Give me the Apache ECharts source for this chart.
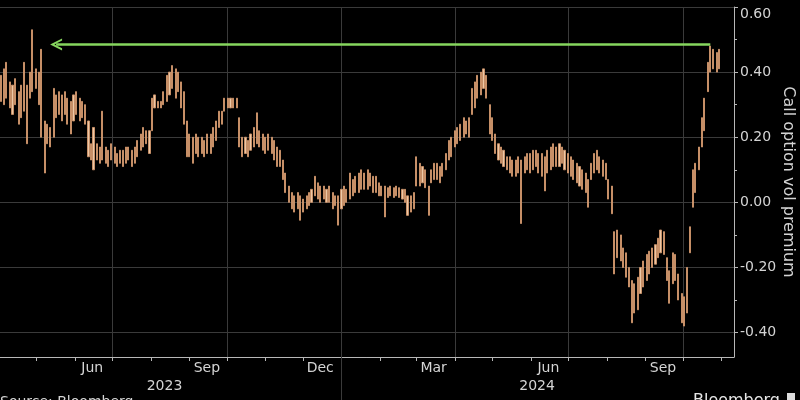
<!DOCTYPE html>
<html>
<head>
<meta charset="utf-8">
<script src="https://cdn.jsdelivr.net/npm/echarts@6/dist/echarts.min.js"></script>
<style>
html,body{margin:0;padding:0;background:#000;}
#c{width:800px;height:400px;}
</style>
</head>
<body>
<div id="c"></div>
<script>
// ---- data ----
// bars are sampled Mon / Wed / Fri of each week, starting Monday 2023-04-03
const firstMonday = [2023, 4, 3];
const weekDayOffsets = [0, 2, 4];

const lows = [
  0.31, 0.30, 0.32,   0.29, 0.27, 0.30,   0.24, 0.26, 0.28,   0.18, 0.32, 0.34,
  0.35, 0.30, 0.20,   0.09, 0.18, 0.17,   0.20, 0.26, 0.27,   0.25, 0.27, 0.24,
  0.21, 0.25, 0.27,   0.25, 0.26, 0.24,   0.14, 0.13, 0.10,   0.13, 0.12, 0.13,
  0.12, 0.11, 0.13,   0.12, 0.11, 0.12,   0.11, 0.12, 0.13,   0.11, 0.12, 0.14,
  0.16, 0.17, 0.18,   0.15, 0.22, 0.29,   0.29, 0.29, 0.30,   0.31, 0.33, 0.35,
  0.32, 0.34, 0.29,   0.24, 0.14, 0.14,   0.12, 0.15, 0.14,   0.15, 0.14, 0.15,
  0.15, 0.17, 0.19,   0.23, 0.24, 0.28,   0.29, 0.29, 0.29,   0.29, 0.17, 0.14,
  0.15, 0.14, 0.16,   0.17, 0.18, 0.17,   0.16, 0.15, 0.16,   0.15, 0.13, 0.11,
  0.11, 0.07, 0.03,   0.00, -0.02, -0.03, -0.02, -0.055, -0.03, -0.02, -0.01, 0.00,
  0.02, 0.01, 0.00,   0.01, 0.00, 0.00,   -0.02, -0.01, -0.07, -0.02, -0.01, 0.00,
  0.01, 0.02, 0.03,   0.03, 0.04, 0.04,   0.04, 0.05, 0.03,   0.03, 0.02, 0.02,
  -0.045, 0.015, 0.02, 0.015, 0.02, 0.015, 0.01, 0.00, -0.04,  -0.03, -0.02, 0.05,
  0.05, 0.06, 0.045,  -0.04, 0.06, 0.07,  0.07, 0.06, 0.08,   0.10, 0.13, 0.14,
  0.17, 0.18, 0.19,   0.20, 0.21, 0.20,   0.27, 0.29, 0.32,   0.33, 0.35, 0.32,
  0.21, 0.19, 0.15,   0.13, 0.12, 0.11,   0.10, 0.09, 0.08,   0.08, 0.09, -0.065,
  0.09, 0.10, 0.09,   0.10, 0.11, 0.09,   0.08, 0.035, 0.09,  0.10, 0.11, 0.11,
  0.11, 0.12, 0.10,   0.09, 0.08, 0.07,   0.06, 0.05, 0.04,   0.03, -0.015, 0.07,
  0.09, 0.10, 0.09,   0.08, 0.07, 0.01,   -0.035, -0.22, -0.17, -0.18, -0.20, -0.23,
  -0.26, -0.37, -0.34, -0.33, -0.28, -0.26, -0.24, -0.22, -0.20, -0.19, -0.17, -0.155,
  -0.16, -0.24, -0.31, -0.25, -0.24, -0.30, -0.37, -0.38, -0.34, -0.155, -0.015, 0.03,
  0.10, 0.17, 0.22,   0.34, 0.40, 0.41,   0.40, 0.41
];

const highs = [
  0.39, 0.41, 0.43,   0.37, 0.36, 0.38,   0.34, 0.36, 0.43,   0.36, 0.40, 0.53,
  0.41, 0.40, 0.47,   0.25, 0.24, 0.23,   0.35, 0.33, 0.34,   0.33, 0.34, 0.32,
  0.31, 0.33, 0.34,   0.32, 0.31, 0.30,   0.25, 0.18, 0.23,   0.18, 0.17, 0.28,
  0.17, 0.16, 0.18,   0.17, 0.15, 0.16,   0.16, 0.17, 0.17,   0.16, 0.17, 0.19,
  0.21, 0.23, 0.22,   0.22, 0.32, 0.33,   0.31, 0.31, 0.34,   0.39, 0.40, 0.42,
  0.41, 0.40, 0.37,   0.34, 0.25, 0.21,   0.20, 0.21, 0.20,   0.20, 0.19, 0.21,
  0.21, 0.23, 0.25,   0.28, 0.28, 0.32,   0.32, 0.32, 0.32,   0.32, 0.26, 0.20,
  0.20, 0.19, 0.21,   0.23, 0.275, 0.22,  0.21, 0.20, 0.21,   0.20, 0.19, 0.17,
  0.16, 0.13, 0.09,   0.05, 0.03, 0.02,   0.03, 0.02, 0.01,   0.02, 0.03, 0.04,
  0.08, 0.06, 0.05,   0.05, 0.04, 0.05,   0.03, 0.02, 0.02,   0.04, 0.05, 0.04,
  0.09, 0.07, 0.08,   0.09, 0.10, 0.09,   0.10, 0.09, 0.08,   0.08, 0.06, 0.05,
  0.05, 0.045, 0.05,  0.045, 0.05, 0.045, 0.04, 0.04, 0.02,   0.02, 0.03, 0.14,
  0.12, 0.11, 0.10,   0.05, 0.10, 0.12,   0.12, 0.11, 0.12,   0.15, 0.19, 0.20,
  0.22, 0.23, 0.24,   0.26, 0.25, 0.26,   0.35, 0.37, 0.39,   0.40, 0.41, 0.39,
  0.30, 0.26, 0.21,   0.18, 0.17, 0.16,   0.14, 0.14, 0.13,   0.13, 0.14, 0.13,
  0.14, 0.15, 0.15,   0.16, 0.16, 0.15,   0.15, 0.14, 0.16,   0.17, 0.18, 0.17,
  0.18, 0.17, 0.16,   0.15, 0.14, 0.13,   0.12, 0.11, 0.10,   0.09, 0.07, 0.12,
  0.15, 0.16, 0.14,   0.13, 0.12, 0.07,   0.05, -0.09, -0.085, -0.10, -0.14, -0.155,
  -0.20, -0.24, -0.25, -0.23, -0.20, -0.18, -0.16, -0.15, -0.14, -0.13, -0.11, -0.085,
  -0.09, -0.17, -0.21, -0.155, -0.16, -0.22, -0.28, -0.29, -0.20, -0.075, 0.10, 0.12,
  0.17, 0.26, 0.32,   0.43, 0.48, 0.47,   0.46, 0.47
];

// axis / annotation values
const xRange = ['2023-04-02', '2024-11-11'];
const monthTickDates = ['2023-05-01','2023-06-01','2023-07-01','2023-08-01','2023-09-01','2023-10-01',
  '2023-11-01','2023-12-01','2024-01-01','2024-02-01','2024-03-01','2024-04-01','2024-05-01',
  '2024-06-01','2024-07-01','2024-08-01','2024-09-01','2024-10-01','2024-11-01'];
const monthLabelDates = ['2023-06-15','2023-09-15','2023-12-15','2024-03-15','2024-06-15','2024-09-15'];
const monthNames = ['Jan','Feb','Mar','Apr','May','Jun','Jul','Aug','Sep','Oct','Nov','Dec'];
const quarterGridDates = ['2023-07-01','2023-10-01','2024-01-01','2024-04-01','2024-07-01','2024-10-01'];
const yearLabelDates = ['2023-08-12','2024-06-06'];
const yearDividerDates = ['2024-01-01'];
const yRange = [-0.475, 0.6];
const yMajorTicks = [-0.4, -0.2, 0, 0.2, 0.4, 0.6];
const yMinorTicks = [-0.3, -0.1, 0.1, 0.3, 0.5];
const arrowLevel = 0.485;
const arrowFrom = '2023-05-17';
const arrowTo = '2024-10-23';
const yTitle = 'Call option vol premium';

// ---- helpers ----
function t(s) { const p = s.split('-').map(Number); return new Date(p[0], p[1] - 1, p[2]).getTime(); }
function sampleDates(n) {
  const out = [];
  for (let k = 0; out.length < n; k++) {
    for (const off of weekDayOffsets) {
      if (out.length >= n) break;
      out.push(new Date(firstMonday[0], firstMonday[1] - 1, firstMonday[2] + 7 * k + off).getTime());
    }
  }
  return out;
}
const dates = sampleDates(lows.length);
const barData = dates.map((d, i) => [d, lows[i], highs[i], lows[i], highs[i]]);

const axisColor = '#b8b8b8';
const textColor = '#d4d4d4';
const gridColor = '#3a3a3a';
const font = 'DejaVu Sans';

const baseX = { type: 'value', min: t(xRange[0]), max: t(xRange[1]), position: 'bottom', gridIndex: 0, scale: true };
const baseY = { type: 'value', min: yRange[0], max: yRange[1], position: 'right', gridIndex: 0 };

const chart = echarts.init(document.getElementById('c'), null, { renderer: 'canvas' });
chart.setOption({
  backgroundColor: '#000',
  animation: false,
  grid: { left: 0, right: 66, top: 7, bottom: 43, containLabel: false, outerBoundsMode: 'none' },
  xAxis: [
    Object.assign({}, baseX, {
      axisLine: { show: true, onZero: false, lineStyle: { color: axisColor, width: 1 } },
      axisTick: { show: true, customValues: monthTickDates.map(t), length: 4, lineStyle: { color: axisColor } },
      axisLabel: { show: true, customValues: monthLabelDates.map(t), margin: 4,
        color: textColor, fontSize: 14, fontFamily: font,
        formatter: v => monthNames[new Date(v).getMonth()] },
      splitLine: { show: false }
    }),
    Object.assign({}, baseX, {
      axisLine: { show: false, onZero: false },
      axisTick: { show: false, customValues: quarterGridDates.map(t) },
      axisLabel: { show: false },
      splitLine: { show: true, lineStyle: { color: gridColor, width: 1 } }
    }),
    Object.assign({}, baseX, {
      axisLine: { show: false, onZero: false },
      axisTick: { show: true, customValues: yearDividerDates.map(t), length: 43, lineStyle: { color: gridColor } },
      axisLabel: { show: true, customValues: yearLabelDates.map(t), margin: 22,
        color: textColor, fontSize: 14, fontFamily: font,
        formatter: v => String(new Date(v).getFullYear()) },
      splitLine: { show: false }
    })
  ],
  yAxis: [
    Object.assign({}, baseY, {
      name: yTitle, nameLocation: 'middle', nameRotate: -90, nameGap: 46, nameMoveOverlap: false,
      nameTextStyle: { color: textColor, fontSize: 16, fontFamily: font },
      axisLine: { show: true, onZero: false, lineStyle: { color: axisColor, width: 1 } },
      axisTick: { show: true, customValues: yMajorTicks, length: 4, lineStyle: { color: axisColor } },
      axisLabel: { show: true, customValues: yMajorTicks, margin: 6, color: textColor,
        fontSize: 14, fontFamily: font, verticalAlignMaxLabel: 'top',
        formatter: v => v.toFixed(2) },
      splitLine: { show: true, lineStyle: { color: gridColor, width: 1 } }
    }),
    Object.assign({}, baseY, {
      axisLine: { show: false, onZero: false },
      axisTick: { show: true, customValues: yMinorTicks, length: 3, lineStyle: { color: axisColor } },
      axisLabel: { show: false },
      splitLine: { show: false }
    })
  ],
  series: [{
    type: 'candlestick',
    xAxisIndex: 0, yAxisIndex: 0,
    encode: { x: 0, y: [1, 2, 3, 4] },
    data: barData,
    barWidth: 1.6,
    itemStyle: { color: '#ecc8a6', color0: '#ecc8a6', borderColor: '#cf946a', borderColor0: '#cf946a', borderWidth: 0.9 },
    markLine: {
      silent: true, animation: false,
      label: { show: false },
      lineStyle: { color: '#86d65e', width: 2.5, type: 'solid' },
      data: [[
        { coord: [t(arrowFrom), arrowLevel], symbol: 'path://M0,10 L5,0 L10,10 L8.2,10 L5,3.6 L1.8,10 Z', symbolSize: [12, 12] },
        { coord: [t(arrowTo), arrowLevel], symbol: 'none' }
      ]]
    }
  }],
  graphic: [
    { type: 'text', left: 0, top: 395, silent: true,
      style: { text: 'Source: Bloomberg', fill: textColor, font: '14px "DejaVu Sans"' } },
    { type: 'text', right: 20, top: 393, silent: true,
      style: { text: 'Bloomberg', fill: '#e6e6e6', font: '16px "DejaVu Sans"' } },
    { type: 'rect', right: 5, top: 393, silent: true,
      shape: { width: 8, height: 8 }, style: { fill: '#dcdcdc' } }
  ]
});
</script>
</body>
</html>
